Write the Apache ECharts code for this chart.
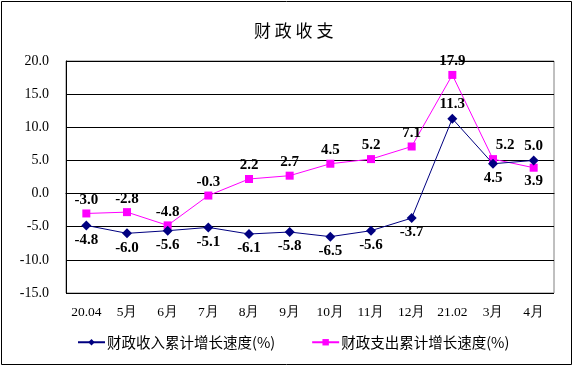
<!DOCTYPE html>
<html><head><meta charset="utf-8">
<script src="https://cdn.jsdelivr.net/npm/echarts@6/dist/echarts.min.js"></script>
<style>html,body{margin:0;padding:0;background:#fff}#c{width:574px;height:367px}</style>
</head><body><div id="c"></div>
<script>
const categories = ['20.04','5月','6月','7月','8月','9月','10月','11月','12月','21.02','3月','4月'];
const incomeGrowth = [-4.8,-6.0,-5.6,-5.1,-6.1,-5.8,-6.5,-5.6,-3.7,11.3,4.5,5.0];
const expenditureGrowth = [-3.0,-2.8,-4.8,-0.3,2.2,2.7,4.5,5.2,7.1,17.9,5.2,3.9];
const seriesNames = ['财政收入累计增长速度(%)','财政支出累计增长速度(%)'];

const incomeLabelPos = ['bottom','bottom','bottom','bottom','bottom','bottom','bottom','bottom','bottom','top','bottom','top'];
const expLabelPos = ['top','top','top','top','top','top','top','top','top','top','top','bottom'];
const expLabelShiftX = [0,0,0,0,0,0,0,0,0,0,12,0];

const serif = 'Liberation Serif, Times New Roman, serif';
const chart = echarts.init(document.getElementById('c'), null, {renderer:'canvas'});
const lbl = {show:true, fontFamily:serif, fontWeight:'bold', fontSize:15, color:'#000', distance:2,
  formatter: p => p.value.toFixed(1)};
chart.setOption({
  animation:false,
  backgroundColor:'#fff',
  title:{text:'财 政 收 支', left:249, top:17, textStyle:{fontFamily:'Noto Sans CJK SC', fontWeight:'normal', fontSize:17, color:'#000'}},
  graphic:[{type:'rect', shape:{x:1.5,y:1.5,width:570,height:363}, style:{fill:null, stroke:'#000', lineWidth:1}, silent:true}],
  grid:{left:66, right:20, top:61, bottom:74, show:true, borderColor:'#808080', borderWidth:1},
  legend:{left:72, top:330, itemWidth:27, itemHeight:8, itemGap:36,
    textStyle:{fontFamily:'Noto Sans CJK SC', fontSize:14.5, color:'#000', padding:[0,0,0,-3]},
    data:seriesNames},
  xAxis:{type:'category', data:categories, boundaryGap:true,
    axisLine:{lineStyle:{color:'#000'}},
    axisTick:{inside:true, length:5, lineStyle:{color:'#000'}},
    axisLabel:{fontFamily:serif, fontSize:13.5, color:'#000', margin:12, interval:0}},
  yAxis:{type:'value', min:-15, max:20, interval:5,
    axisLine:{show:true, lineStyle:{color:'#000'}},
    axisTick:{show:false},
    splitLine:{lineStyle:{color:'#000'}},
    axisLabel:{fontFamily:serif, fontSize:14, color:'#000', margin:17, formatter:v=>v.toFixed(1)}},
  series:[
    {name:seriesNames[0], type:'line', data:incomeGrowth.map((v,i)=>({value:v, label:{position:incomeLabelPos[i]}})),
      symbol:'diamond', symbolSize:10, color:'#000080', lineStyle:{width:1, color:'#000080'},
      itemStyle:{color:'#000080'}, label:lbl, z:3},
    {name:seriesNames[1], type:'line', data:expenditureGrowth.map((v,i)=>({value:v, label:{position:expLabelPos[i], offset:[expLabelShiftX[i],0]}})),
      symbol:'rect', symbolSize:8, color:'#ff00ff', lineStyle:{width:1, color:'#ff00ff'},
      itemStyle:{color:'#ff00ff'}, label:lbl, z:2}
  ]
});
</script></body></html>
